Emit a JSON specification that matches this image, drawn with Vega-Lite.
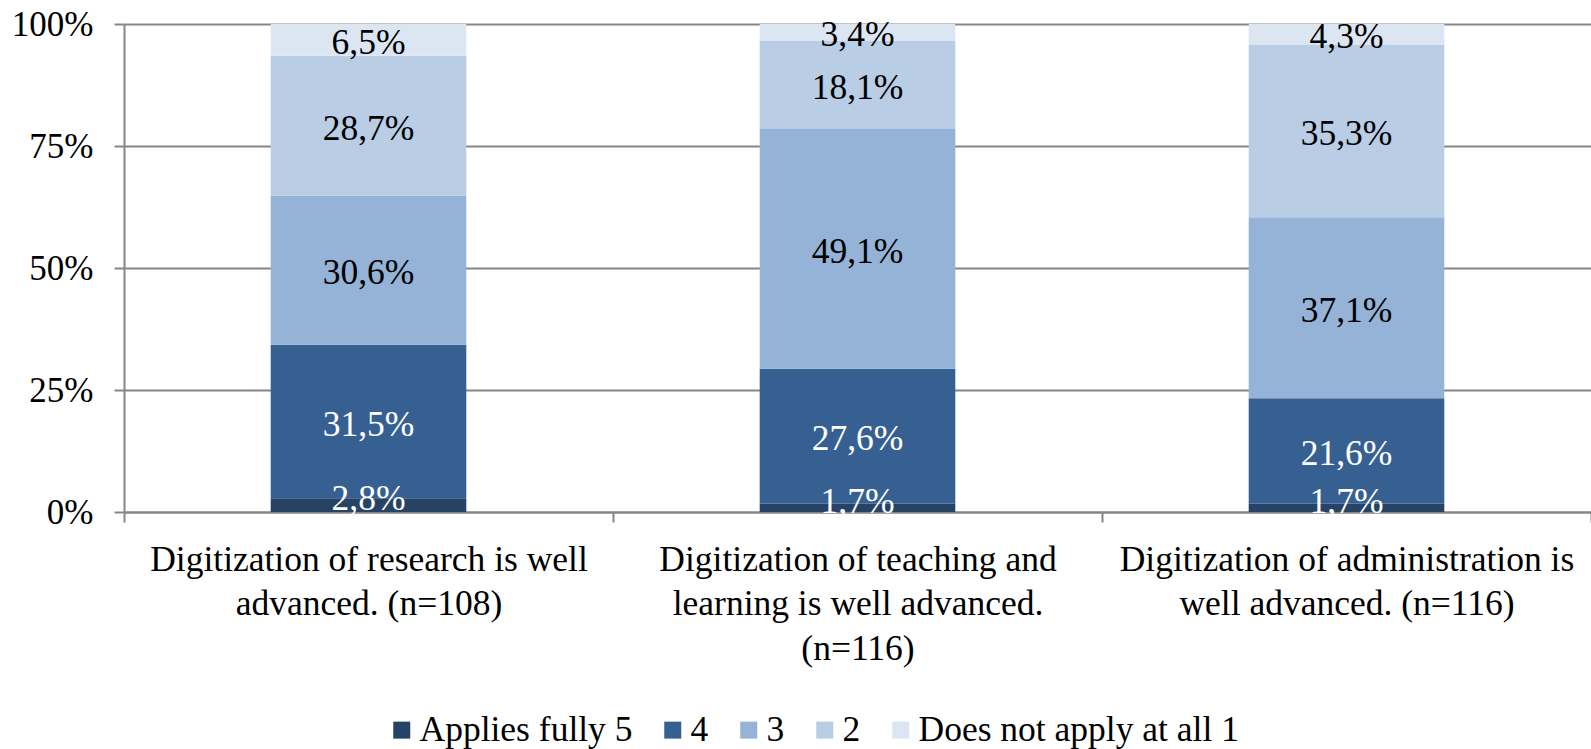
{
  "$schema": "https://vega.github.io/schema/vega-lite/v6.json",
  "width": 1467,
  "height": 488,
  "autosize": {"type": "none"},
  "padding": {"left": 124, "top": 24, "right": 0, "bottom": 237},
  "background": "white",
  "data": {
    "values": [
      {"cat": "Digitization of research is well|advanced. (n=108)", "s": "Applies fully 5", "k": 1, "v": 2.8, "lab": "2,8%"},
      {"cat": "Digitization of research is well|advanced. (n=108)", "s": "4", "k": 2, "v": 31.5, "lab": "31,5%"},
      {"cat": "Digitization of research is well|advanced. (n=108)", "s": "3", "k": 3, "v": 30.6, "lab": "30,6%"},
      {"cat": "Digitization of research is well|advanced. (n=108)", "s": "2", "k": 4, "v": 28.7, "lab": "28,7%"},
      {"cat": "Digitization of research is well|advanced. (n=108)", "s": "Does not apply at all 1", "k": 5, "v": 6.5, "lab": "6,5%"},
      {"cat": "Digitization of teaching and|learning is well advanced.|(n=116)", "s": "Applies fully 5", "k": 1, "v": 1.7, "lab": "1,7%"},
      {"cat": "Digitization of teaching and|learning is well advanced.|(n=116)", "s": "4", "k": 2, "v": 27.6, "lab": "27,6%"},
      {"cat": "Digitization of teaching and|learning is well advanced.|(n=116)", "s": "3", "k": 3, "v": 49.1, "lab": "49,1%"},
      {"cat": "Digitization of teaching and|learning is well advanced.|(n=116)", "s": "2", "k": 4, "v": 18.1, "lab": "18,1%"},
      {"cat": "Digitization of teaching and|learning is well advanced.|(n=116)", "s": "Does not apply at all 1", "k": 5, "v": 3.4, "lab": "3,4%"},
      {"cat": "Digitization of administration is|well advanced. (n=116)", "s": "Applies fully 5", "k": 1, "v": 1.7, "lab": "1,7%"},
      {"cat": "Digitization of administration is|well advanced. (n=116)", "s": "4", "k": 2, "v": 21.6, "lab": "21,6%"},
      {"cat": "Digitization of administration is|well advanced. (n=116)", "s": "3", "k": 3, "v": 37.1, "lab": "37,1%"},
      {"cat": "Digitization of administration is|well advanced. (n=116)", "s": "2", "k": 4, "v": 35.3, "lab": "35,3%"},
      {"cat": "Digitization of administration is|well advanced. (n=116)", "s": "Does not apply at all 1", "k": 5, "v": 4.3, "lab": "4,3%"}
    ]
  },
  "transform": [
    {"stack": "v", "groupby": ["cat"], "sort": [{"field": "k", "order": "ascending"}], "offset": "normalize", "as": ["y0", "y1"]},
    {"calculate": "(datum.y0 + datum.y1) / 2", "as": "ym"}
  ],
  "encoding": {
    "x": {
      "field": "cat",
      "type": "nominal",
      "sort": null,
      "scale": {"paddingInner": 0, "paddingOuter": 0},
      "axis": {
        "title": null,
        "labelAngle": 0,
        "labelExpr": "split(datum.label, '|')",
        "domainColor": "#868686",
        "domainWidth": 2,
        "tickColor": "#868686",
        "tickWidth": 2,
        "tickSize": 10,
        "tickBand": "extent",
        "labelFont": "Liberation Serif, Times New Roman, serif",
        "labelFontSize": 35.5,
        "labelColor": "black",
        "labelPadding": 20,
        "labelLineHeight": 44.5,
        "labelBaseline": "top",
        "labelLimit": 700
      }
    }
  },
  "layer": [
    {
      "mark": {"type": "bar", "width": {"band": 0.4}},
      "encoding": {
        "y": {
          "field": "y0",
          "type": "quantitative",
          "scale": {"domain": [0, 1]},
          "axis": {
            "title": null,
            "values": [0, 0.25, 0.5, 0.75, 1],
            "format": ".0%",
            "grid": true,
            "gridColor": "#868686",
            "gridWidth": 2,
            "domainColor": "#868686",
            "domainWidth": 2,
            "tickColor": "#868686",
            "tickWidth": 2,
            "tickSize": 10,
            "labelPadding": 21,
            "labelFont": "Liberation Serif, Times New Roman, serif",
            "labelFontSize": 35,
            "labelColor": "black"
          }
        },
        "y2": {"field": "y1"},
        "color": {
          "field": "s",
          "type": "nominal",
          "scale": {
            "domain": ["Applies fully 5", "4", "3", "2", "Does not apply at all 1"],
            "range": ["#264264", "#376092", "#95b3d7", "#b9cde5", "#dce6f2"]
          },
          "legend": {
            "title": null,
            "orient": "none",
            "legendX": 260,
            "legendY": 688,
            "direction": "horizontal",
            "symbolType": "square",
            "symbolSize": 289,
            "symbolStrokeWidth": 0,
            "labelFont": "Liberation Serif, Times New Roman, serif",
            "labelFontSize": 35.5,
            "labelColor": "black",
            "labelOffset": 0,
            "columnPadding": 22,
            "labelLimit": 500
          }
        }
      }
    },
    {
      "transform": [{"filter": "datum.k > 1"}],
      "mark": {"type": "text", "font": "Liberation Serif, Times New Roman, serif", "fontSize": 35.5, "baseline": "middle", "align": "center", "dy": 3},
      "encoding": {
        "y": {"field": "ym", "type": "quantitative"},
        "text": {"field": "lab"},
        "color": {"condition": {"test": "datum.k <= 2", "value": "white"}, "value": "black"}
      }
    },
    {
      "transform": [{"filter": "datum.k == 1"}],
      "mark": {"type": "text", "font": "Liberation Serif, Times New Roman, serif", "fontSize": 35.5, "baseline": "middle", "align": "center", "dy": -6, "color": "white"},
      "encoding": {
        "y": {"field": "ym", "type": "quantitative"},
        "text": {"field": "lab"}
      }
    }
  ],
  "config": {"view": {"stroke": null}}
}
